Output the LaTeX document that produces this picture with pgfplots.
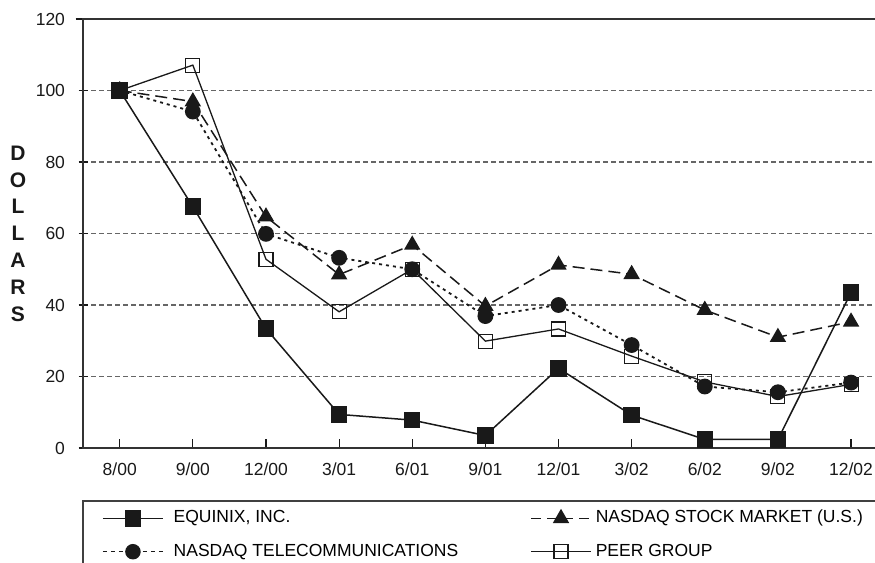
\documentclass[border=0pt]{standalone}
\usepackage{fontspec}
\setmainfont{Liberation Sans}
\usepackage{pgfplots}
\pgfplotsset{compat=1.18}
\definecolor{ink}{gray}{0.1}
\begin{document}
\begin{tikzpicture}[x=1bp,y=1bp]
\begin{axis}[
  at={(83bp,-448bp)}, anchor=south west,
  scale only axis, width=804.6bp, height=429bp,
  xmin=-0.502, xmax=10.5, ymin=0, ymax=120,
  xtick={0,...,10},
  xticklabels={8/00,9/00,12/00,3/01,6/01,9/01,12/01,3/02,6/02,9/02,12/02},
  ytick={0,20,...,120},
  xtick pos=bottom, ytick pos=left,
  xtick align=inside, ytick align=center,
  major tick length=9bp,
  ytick style={shorten <=-2.8bp, shorten >=-2.8bp},
  tick style={line width=1.2bp, ink},
  axis line style={line width=1.6bp, black!80},
  ymajorgrids,
  grid style={dash pattern=on 5bp off 3bp, line width=1.1bp, black!60},
  /pgf/number format/assume math mode=true,
  tick label style={font=\fontsize{17.5bp}{21bp}\selectfont, ink},
  yticklabel style={xshift=-10bp},
  xticklabel style={yshift=-11bp},
  ylabel={D\\O\\L\\L\\A\\R\\S},
  ylabel style={rotate=-90, align=center, font=\fontsize{21bp}{26.8bp}\selectfont\bfseries,
    at={(axis description cs:-0.0808,0.5)}, anchor=center, ink},
  legend columns=2,
  legend style={draw=none, fill=none, inner sep=0pt,
    at={(axis description cs:0.0236,-0.2028)}, anchor=west,
    font=\fontsize{17.5bp}{21bp}\selectfont,
    nodes={inner sep=0pt, text height=13bp, text depth=4bp},
    row sep=16.4bp,
    /tikz/column 1/.style={column sep=10bp},
    /tikz/column 2/.style={column sep=72bp},
    /tikz/column 3/.style={column sep=4bp}},
  legend cell align=left,
  legend image code/.code={\draw[mark repeat=2,mark phase=2,#1] plot coordinates {(0bp,0bp)(30bp,0bp)(60bp,0bp)};},
]
% peer group
\addplot[ink, line width=1.3bp, mark=square, mark size=7bp, mark options={fill=white, solid, line width=1.1bp}, forget plot]
  coordinates {(0,100)(1,107.1)(2,52.8)(3,38.1)(4,50.0)(5,29.9)(6,33.3)(7,25.7)(8,18.5)(9,14.4)(10,17.8)};
% nasdaq stock market
\addplot[ink, line width=1.5bp, dash pattern=on 12bp off 6bp, mark=triangle*, mark size=8bp, mark options={solid}, forget plot]
  coordinates {(0,100)(1,96.9)(2,64.7)(3,48.5)(4,56.8)(5,39.7)(6,51.2)(7,48.6)(8,38.6)(9,31.0)(10,35.3)};
% nasdaq telecom
\addplot[ink, line width=1.8bp, dash pattern=on 3bp off 4bp, mark=*, mark size=7bp, mark options={solid}, forget plot]
  coordinates {(0,100)(1,94.1)(2,59.9)(3,53.2)(4,50.0)(5,36.9)(6,40.0)(7,28.8)(8,17.2)(9,15.6)(10,18.3)};
% equinix
\addplot[ink, line width=1.5bp, mark=square*, mark size=7.5bp, forget plot]
  coordinates {(0,100)(1,67.5)(2,33.4)(3,9.4)(4,7.8)(5,3.5)(6,22.3)(7,9.2)(8,2.4)(9,2.4)(10,43.5)};

\addlegendimage{ink, line width=1.5bp, mark=square*, mark size=7.5bp}
\addlegendentry{EQUINIX, INC.}
\addlegendimage{ink, line width=1.5bp, dash pattern=on 10bp off 6bp, mark=triangle*, mark size=8bp, mark options={solid}}
\addlegendentry{NASDAQ STOCK MARKET (U.S.)}
\addlegendimage{ink, line width=1.5bp, dash pattern=on 4bp off 4bp, mark=*, mark size=7bp, mark options={solid}}
\addlegendentry{NASDAQ TELECOMMUNICATIONS}
\addlegendimage{ink, line width=1.3bp, mark=square, mark size=7bp, mark options={fill=white, solid, line width=1.1bp}}
\addlegendentry{PEER GROUP}
\end{axis}
\draw[line width=1.5bp, black!75] (83,-501) rectangle (920,-620);
\pgfresetboundingbox
\path[use as bounding box] (0,0) rectangle (875,-563);
\end{tikzpicture}
\end{document}
